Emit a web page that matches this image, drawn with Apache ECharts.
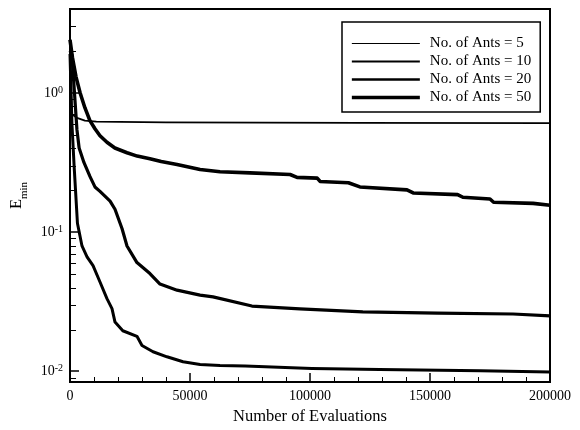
<!DOCTYPE html>
<html>
<head>
<meta charset="utf-8">
<script src="https://cdn.jsdelivr.net/npm/echarts@6/dist/echarts.min.js"></script>
<style>html,body{margin:0;padding:0;background:#fff}#c{width:580px;height:430px}</style>
</head>
<body>
<div id="c"></div>
<script>
// ---- data ----
const seriesNames = ['No. of Ants = 5', 'No. of Ants = 10', 'No. of Ants = 20', 'No. of Ants = 50'];

const evals5 = [0, 800, 2900, 6200, 11000, 40000, 120000, 200000];
const emin5  = [1.5, 0.70, 0.66, 0.63, 0.62, 0.612, 0.607, 0.605];

const evals10 = [0, 1000, 2500, 4200, 6200, 8300, 10400, 12500, 15400, 18700, 23750, 28000, 33300, 38000, 44600, 54200, 62500, 75000, 91700, 94600, 103000, 104200, 116000, 120800, 140400, 143000, 161500, 163700, 175000, 176500, 193000, 200000];
const emin10  = [2.4, 1.8, 1.3, 1.0, 0.78, 0.63, 0.55, 0.49, 0.44, 0.40, 0.37, 0.35, 0.335, 0.32, 0.305, 0.28, 0.27, 0.265, 0.258, 0.246, 0.243, 0.23, 0.225, 0.21, 0.20, 0.19, 0.185, 0.177, 0.172, 0.163, 0.16, 0.155];

const evals20 = [0, 800, 2900, 3800, 5800, 8300, 10400, 12500, 16700, 18750, 21700, 23750, 27900, 33300, 37500, 44600, 54200, 59600, 75800, 95800, 122000, 153000, 184600, 200000];
const emin20  = [2.0, 1.87, 0.54, 0.40, 0.315, 0.25, 0.21, 0.195, 0.166, 0.145, 0.105, 0.079, 0.06, 0.05, 0.042, 0.038, 0.035, 0.034, 0.0292, 0.0279, 0.0265, 0.026, 0.0256, 0.0248];

const evals50 = [0, 800, 1700, 3100, 5000, 7100, 9600, 12500, 15400, 17500, 18750, 22000, 27900, 30000, 34600, 40400, 47100, 54200, 62500, 73000, 100800, 129000, 171000, 200000];
const emin50  = [1.9, 0.6, 0.3, 0.115, 0.079, 0.066, 0.057, 0.0435, 0.033, 0.028, 0.0224, 0.0194, 0.0177, 0.0152, 0.0137, 0.0126, 0.0116, 0.0111, 0.0109, 0.0108, 0.0104, 0.0102, 0.0100, 0.0098];

const xTickValues = [0, 50000, 100000, 150000, 200000];
const yMinorTickValues = [0.009, 0.02, 0.03, 0.04, 0.05, 0.06, 0.07, 0.08, 0.09,
                          0.2, 0.3, 0.4, 0.5, 0.6, 0.7, 0.8, 0.9, 2, 3];

// ---- chart ----
const FONT = "'Liberation Serif', 'Times New Roman', serif";
const pairs = (xs, ys) => xs.map((x, i) => [x, ys[i]]);
const seriesData = [pairs(evals5, emin5), pairs(evals10, emin10), pairs(evals20, emin20), pairs(evals50, emin50)];
const curveWidths = [1.8, 3.6, 3.2, 3.0];
const legendWidths = [1.2, 2.2, 2.7, 3.7];

const Y_MIN = 0.0083, Y_MAX = 4.0;
const gridBox = { left: 70, right: 30, top: 9, bottom: 47 };

const chart = echarts.init(document.getElementById('c'), null, { renderer: 'canvas' });
chart.setOption({
  animation: false,
  backgroundColor: '#fff',
  textStyle: { fontFamily: FONT, color: '#000' },
  grid: [
    Object.assign({ show: true, borderColor: '#000', borderWidth: 2, backgroundColor: 'transparent', containLabel: false }, gridBox),
    Object.assign({ show: false, containLabel: false }, gridBox)
  ],
  legend: {
    orient: 'vertical',
    left: 342, top: 22,
    padding: [14, 9, 7, 8],
    itemWidth: 68, itemHeight: 10, itemGap: 3,
    borderColor: '#000', borderWidth: 1.5,
    backgroundColor: '#fff',
    selectedMode: false,
    itemStyle: { opacity: 0 },
    textStyle: { fontFamily: FONT, fontSize: 15, color: '#000', padding: [0, 0, 0, 5] },
    data: seriesNames.map((n, i) => ({ name: n, lineStyle: { width: legendWidths[i], color: '#000', opacity: 1 } }))
  },
  xAxis: [{
    type: 'value', gridIndex: 0,
    min: 0, max: 200000, interval: 50000,
    name: 'Number of Evaluations', nameLocation: 'middle', nameGap: 26,
    nameTextStyle: { fontFamily: FONT, fontSize: 16.5, color: '#000' },
    axisLine: { show: true, lineStyle: { color: '#000', width: 2 } },
    axisTick: { show: true, inside: true, length: 9, lineStyle: { color: '#000', width: 1.5 } },
    minorTick: { show: true, splitNumber: 5, length: 5, lineStyle: { color: '#000', width: 1 } },
    splitLine: { show: false },
    axisLabel: { fontFamily: FONT, fontSize: 14, color: '#000', margin: 7,
      customValues: xTickValues, formatter: v => String(v) }
  }, {
    type: 'value', gridIndex: 1, min: 0, max: 200000, show: false
  }],
  yAxis: [{
    type: 'log', logBase: 10, gridIndex: 0,
    min: Y_MIN, max: Y_MAX,
    name: '{e|E}{s|min}', nameLocation: 'middle', nameRotate: 90, nameGap: 38,
    nameTextStyle: {
      fontFamily: FONT, color: '#000',
      rich: {
        e: { fontFamily: FONT, fontSize: 16.5, verticalAlign: 'top', color: '#000' },
        s: { fontFamily: FONT, fontSize: 11, verticalAlign: 'top', padding: [10.5, 0, 0, 0], color: '#000' }
      }
    },
    axisLine: { show: true, lineStyle: { color: '#000', width: 2 } },
    axisTick: { show: true, inside: true, length: 9, lineStyle: { color: '#000', width: 1.5 } },
    minorTick: { show: false },
    splitLine: { show: false },
    axisLabel: {
      margin: 7, showMinLabel: false, showMaxLabel: false,
      formatter: v => {
        const l = Math.log10(v), e = Math.round(l);
        if (Math.abs(l - e) > 1e-6) return '';
        return '{b|10}{s|' + e + '}';
      },
      rich: {
        b: { fontFamily: FONT, fontSize: 14, verticalAlign: 'top', padding: [1, 0, 0, 0], color: '#000' },
        s: { fontFamily: FONT, fontSize: 10, verticalAlign: 'top', color: '#000' }
      }
    }
  }, {
    type: 'log', logBase: 10, gridIndex: 1,
    min: Y_MIN, max: Y_MAX,
    axisLine: { show: false },
    axisLabel: { show: false },
    splitLine: { show: false },
    axisTick: { show: true, inside: true, length: 6, customValues: yMinorTickValues, lineStyle: { color: '#000', width: 1 } }
  }],
  series: seriesNames.map((n, i) => ({
    name: n, type: 'line', xAxisIndex: 0, yAxisIndex: 0,
    data: seriesData[i],
    symbol: 'none', showSymbol: false, smooth: false,
    lineStyle: { color: '#000', width: curveWidths[i], join: 'round' },
    itemStyle: { color: '#000' }
  }))
});
</script>
</body>
</html>
